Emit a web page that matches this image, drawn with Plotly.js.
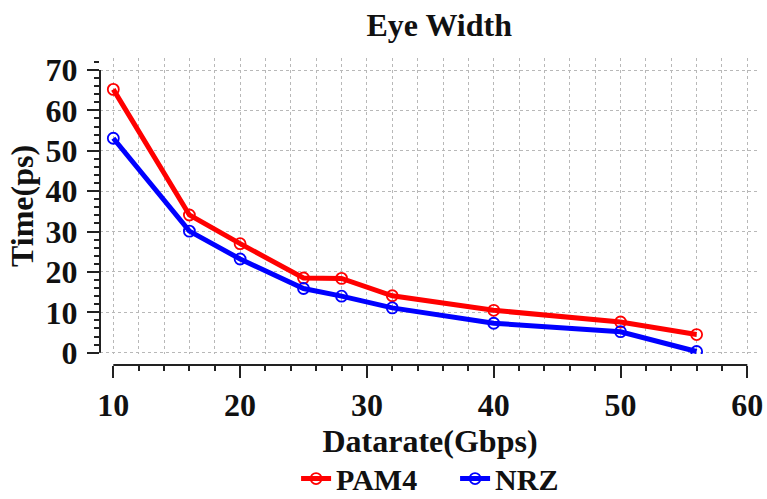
<!DOCTYPE html>
<html>
<head>
<meta charset="utf-8">
<script src="https://cdn.plot.ly/plotly-3.0.1.min.js"></script>
<style>html,body{margin:0;padding:0;background:#fff;}#chart{width:767px;height:499px;}</style>
</head>
<body>
<div id="chart"></div>
<script>
const datarate = [10, 16, 20, 25, 28, 32, 40, 50, 56];
const pam4 = [65.2, 34.1, 27.0, 18.5, 18.4, 14.1, 10.5, 7.6, 4.5];
const nrz = [53.1, 30.1, 23.2, 15.9, 14.0, 11.1, 7.3, 5.2, 0.3];
const seriesNames = ['PAM4', 'NRZ'];
const xTickVals = [10, 20, 30, 40, 50, 60];
const yTickVals = [0, 10, 20, 30, 40, 50, 60, 70];

const F = 'Liberation Serif, Times New Roman, serif';
function font(size){ return {family: F, size: size, color: '#111', weight: 'bold'}; }

const traces = [
  {x: datarate, y: pam4, name: seriesNames[0], type: 'scatter', mode: 'lines+markers',
   line: {color: '#ff0000', width: 5},
   marker: {symbol: 'circle-open', size: 11, color: '#ff0000', line: {width: 1.8, color: '#ff0000'}}},
  {x: datarate, y: nrz, name: seriesNames[1], type: 'scatter', mode: 'lines+markers',
   line: {color: '#0000ff', width: 5},
   marker: {symbol: 'circle-open', size: 11, color: '#0000ff', line: {width: 1.8, color: '#0000ff'}}}
];

const layout = {
  width: 767, height: 499,
  margin: {l: 100, r: 7, t: 58, b: 134, autoexpand: false},
  paper_bgcolor: '#fff', plot_bgcolor: '#fff',
  showlegend: true,
  title: {text: 'Eye Width', font: font(32), xref: 'paper', x: 0.514, xanchor: 'center',
          yref: 'container', y: 0.95, yanchor: 'middle'},
  xaxis: {
    range: [8.95, 61.0], anchor: 'free', position: 0,
    tickmode: 'array', tickvals: xTickVals,
    ticks: 'outside', ticklen: 12, tickwidth: 2, tickcolor: '#222',
    showline: false, zeroline: false,
    showgrid: true, gridcolor: '#b8b8b8', griddash: 'dot', gridwidth: 1,
    minor: {dtick: 2, tick0: 0, ticks: 'outside', ticklen: 5, tickwidth: 2, tickcolor: '#222',
            showgrid: true, gridcolor: '#b8b8b8', griddash: 'dot', gridwidth: 1},
    tickfont: font(32),
    title: {text: 'Datarate(Gbps)', font: font(32), standoff: 0}
  },
  yaxis: {
    domain: [0.0358, 1],
    range: [-0.32, 72.97],
    tickmode: 'array', tickvals: yTickVals,
    ticks: 'outside', ticklen: 12, tickwidth: 2, tickcolor: '#222',
    showline: false, zeroline: false,
    showgrid: true, gridcolor: '#b8b8b8', griddash: 'dot', gridwidth: 1,
    minor: {dtick: 2, tick0: 0, ticks: 'outside', ticklen: 5, tickwidth: 2, tickcolor: '#222', showgrid: false},
    tickfont: font(32),
    ticklabelstandoff: 3,
    title: {text: 'Time(ps)', font: font(32), standoff: 2}
  },
  legend: {orientation: 'h', xref: 'paper', x: 0.538, xanchor: 'center',
           yref: 'paper', y: -0.37, yanchor: 'middle', font: font(30),
           bgcolor: 'rgba(0,0,0,0)', itemwidth: 30, entrywidth: 114, entrywidthmode: 'pixels'},
  shapes: [
    {type: 'line', xref: 'paper', yref: 'y', x0: 0, x1: 0, y0: 0, y1: 70, line: {color: '#222', width: 2}},
    {type: 'line', xref: 'x', yref: 'paper', x0: 10, x1: 60, y0: 0, y1: 0, line: {color: '#222', width: 2}}
  ]
};

Plotly.newPlot('chart', traces, layout, {displayModeBar: false, staticPlot: true});
</script>
</body>
</html>
